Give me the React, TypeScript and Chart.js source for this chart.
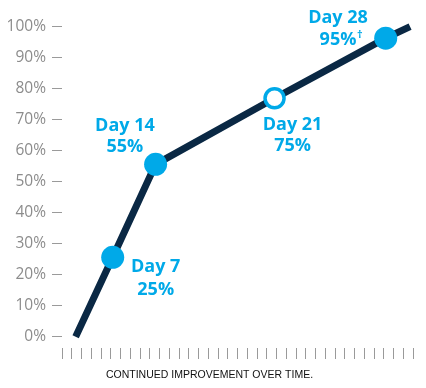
import React, { useEffect, useRef } from "react";
import { Chart, registerables } from "chart.js";

Chart.register(...registerables);

// ---- data ----
const dayLabels = ["", "Day 7", "Day 14", "Day 21", "Day 28", ""];
const valueLabels = ["", "25%", "55%", "75%", "95%", ""];
const footnoteMarks = ["", "", "", "", "†", ""];
const xPositions = [1.4, 5.2, 9.6, 21.8, 33.2, 35.7];
const progress = [0, 25.6, 55.6, 76.9, 96.3, 100];
const yTickValues = [0, 10, 20, 30, 40, 50, 60, 70, 80, 90, 100];
const xAxisTitle = "CONTINUED IMPROVEMENT OVER TIME.";

// ---- styles ----
const NAVY = "#0a2844";
const BLUE = "#00a9e8";
const GRAY = "#8c8c8c";
const TICK_GRAY = "#9a9a9a";
const pointRadii = [0, 11.5, 11.5, 9.5, 11.5, 0];
const pointFills = [BLUE, BLUE, BLUE, "#ffffff", BLUE, BLUE];
const pointBorders = [0, 0, 0, 3.5, 0, 0];
// label offsets from their point: [dx, dy line1, dy line2]
const labelOffsets = [
  [0, 0, 0],
  [43, 10, 32.4],
  [-30.7, -38.6, -17.6],
  [18, 27, 47.7],
  [-47.7, -20, 1.7],
  [0, 0, 0],
];

const labelPlugin = {
  id: "pointLabels",
  afterDatasetsDraw(chart: any) {
    const { ctx } = chart;
    const xs = chart.scales.x;
    const ys = chart.scales.y;
    ctx.save();
    ctx.fillStyle = BLUE;
    ctx.textAlign = "center";
    ctx.textBaseline = "middle";
    for (let i = 0; i < dayLabels.length; i++) {
      if (!dayLabels[i]) continue;
      const px = xs.getPixelForValue(xPositions[i]);
      const py = ys.getPixelForValue(progress[i]);
      const [dx, dy1, dy2] = labelOffsets[i];
      ctx.font = "700 18px 'Open Sans'";
      ctx.textAlign = "center";
      ctx.fillText(dayLabels[i], px + dx, py + dy1);
      ctx.fillText(valueLabels[i], px + dx, py + dy2);
      if (footnoteMarks[i]) {
        const w = ctx.measureText(valueLabels[i]).width;
        ctx.font = "700 11px 'Open Sans'";
        ctx.textAlign = "left";
        ctx.fillText(footnoteMarks[i], px + dx + w / 2 + 0.5, py + dy2 - 5);
      }
    }
    ctx.restore();
  },
};

export default function App() {
  const canvasRef = useRef<HTMLCanvasElement | null>(null);

  useEffect(() => {
    if (!canvasRef.current) return;
    const chart = new Chart(canvasRef.current, {
      type: "line",
      data: {
        datasets: [
          {
            data: xPositions.map((x, i) => ({ x, y: progress[i] })),
            borderColor: NAVY,
            borderWidth: 7,
            borderCapStyle: "butt",
            tension: 0,
            pointRadius: pointRadii,
            pointHoverRadius: pointRadii,
            pointBackgroundColor: pointFills,
            pointBorderColor: BLUE,
            pointBorderWidth: pointBorders,
            clip: false,
          } as any,
        ],
      },
      options: {
        animation: false,
        responsive: false,
        events: [],
        layout: { padding: { left: 6, right: 13, top: 26.7, bottom: 0 } },
        plugins: {
          legend: { display: false },
          tooltip: { enabled: false },
          title: {
            display: true,
            position: "bottom",
            text: xAxisTitle,
            color: "#111111",
            font: { family: "'Liberation Sans'", size: 10.5, weight: "normal", lineHeight: 1.2 },
            padding: { top: 0, bottom: 6.2 },
          },
        },
        scales: {
          x: {
            type: "linear",
            min: 0,
            max: 36,
            ticks: { stepSize: 1, display: false, autoSkip: false },
            grid: {
              drawOnChartArea: false,
              drawTicks: true,
              tickLength: 11.5,
              color: TICK_GRAY,
              lineWidth: 1,
            },
            border: { display: false },
            afterFit: (scale: any) => {
              scale.height = 21.7;
            },
          },
          y: {
            type: "linear",
            min: -3.5,
            max: 100,
            afterBuildTicks: (scale: any) => {
              scale.ticks = yTickValues.map((v) => ({ value: v }));
            },
            ticks: {
              callback: (v: any) => `${v}%`,
              color: GRAY,
              font: { family: "'Open Sans'", size: 15.5 },
              padding: 6,
            },
            grid: {
              drawOnChartArea: false,
              drawTicks: true,
              tickLength: 10,
              color: TICK_GRAY,
              lineWidth: 1,
            },
            border: { display: false },
            afterFit: (scale: any) => {
              scale.width = 56;
            },
          },
        },
      } as any,
      plugins: [labelPlugin],
    });
    return () => chart.destroy();
  }, []);

  return (
    <div style={{ position: "absolute", left: 0, top: 0, width: 426, height: 388, background: "#fff" }}>
      <canvas ref={canvasRef} width={426} height={388} />
    </div>
  );
}
